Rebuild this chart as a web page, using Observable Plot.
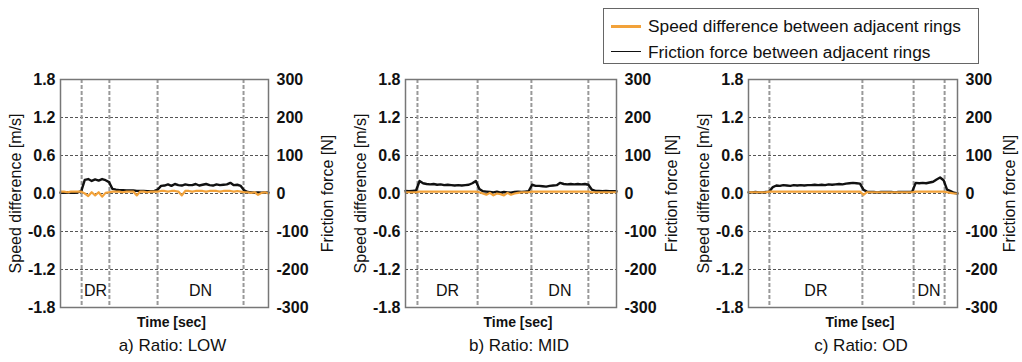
<!DOCTYPE html>
<html>
<head>
<meta charset="utf-8">
<script src="https://cdn.jsdelivr.net/npm/d3@7"></script>
<script src="https://cdn.jsdelivr.net/npm/@observablehq/plot@0.6"></script>
<style>
  html, body { margin: 0; padding: 0; background: #fff; }
  #root { position: relative; width: 1022px; height: 362px; overflow: hidden; font-family: "Liberation Sans", Arial, sans-serif; color: #111; }
  .panel { position: absolute; top: 0; }
  #legend { position: absolute; left: 603px; top: 8px; width: 374px; height: 54px; border: 1px solid #666; background: #fff; }
  .lrow { position: absolute; left: 0; height: 20px; font-size: 17.3px; line-height: 20px; white-space: nowrap; }
  .lrow span.sw { position: absolute; left: 7px; top: 10px; width: 30px; }
  .lrow span.tx { position: absolute; left: 44px; top: 0; }
</style>
</head>
<body>
<div id="root">
  <div id="legend"></div>
</div>
<script>
// ---- data ----
const time = d3.range(0, 61); // seconds (no tick labels in the original)
const speedTicks = [-1.8, -1.2, -0.6, 0, 0.6, 1.2, 1.8];
const forceTicks = [-300, -200, -100, 0, 100, 200, 300];
const phaseLabels = ["DR", "DN"];
const seriesNames = ["Speed difference between adjacent rings", "Friction force between adjacent rings"];
const panelTitles = ["a) Ratio: LOW", "b) Ratio: MID", "c) Ratio: OD"];

// phase boundaries [DR start, DR end, DN start, DN end] in seconds
const boundsA = [6.1, 14.1, 28.0, 52.8];
const boundsB = [3.4, 20.5, 35.8, 52.0];
const boundsC = [6.0, 32.7, 47.4, 56.3];

// speed difference [m/s]
const speedA = [0.03,0.03,0.02,0.03,0.03,0.03,0.03,0.00,-0.04,0.02,
                -0.03,0.02,-0.05,0.01,0.02,0.03,0.03,0.03,0.02,0.03,
                0.03,0.03,-0.03,0.03,0.03,0.02,0.03,0.03,0.03,0.04,
                0.04,0.03,0.04,0.04,0.03,-0.03,0.04,0.04,0.03,0.04,
                0.04,0.04,0.03,0.04,0.04,0.04,0.03,0.04,0.04,0.04,
                0.03,0.04,0.03,0.02,0.02,0.01,0.02,-0.02,0.01,0.02,
                0.00];
const speedB = [0.02,0.02,0.02,0.02,0.03,0.03,0.03,0.03,0.03,0.03,
                0.03,0.03,0.03,0.03,0.03,0.03,0.03,0.03,0.03,0.03,
                0.03,0.02,0.00,-0.02,0.01,-0.03,0.00,-0.01,-0.03,0.01,
                -0.02,0.00,0.01,0.02,0.02,0.02,0.03,0.03,0.03,0.03,
                0.03,0.03,0.03,0.03,0.03,0.03,0.03,0.03,0.03,0.03,
                0.03,0.03,0.03,0.02,0.02,0.02,0.02,0.02,0.02,0.02,
                0.02];
const speedC = [0.02,0.02,0.02,0.02,0.02,0.02,0.03,0.03,0.03,0.03,
                0.03,0.03,0.03,0.03,0.03,0.03,0.03,0.03,0.03,0.03,
                0.03,0.03,0.03,0.03,0.03,0.03,0.03,0.03,0.03,0.03,
                0.03,0.03,0.03,-0.02,0.02,0.02,0.02,0.02,0.02,0.02,
                0.02,0.02,0.02,0.02,0.02,0.02,0.02,0.02,0.03,0.03,
                0.03,0.03,0.03,0.03,0.03,0.03,0.03,0.02,0.01,0.00,
                0.00];

// friction force [N]
const forceA = [2,2,3,2,2,3,6,36,38,33,
                37,34,38,35,30,12,10,9,9,8,
                8,8,7,7,7,6,6,6,10,20,
                21,24,20,25,22,21,24,22,22,25,
                21,23,25,22,21,24,22,23,24,28,
                22,23,20,8,4,3,2,3,2,3,
                2];
const forceB = [7,6,7,8,33,27,25,24,25,23,
                24,22,23,22,21,22,21,22,23,27,
                33,12,6,5,4,3,5,2,4,3,
                2,4,5,4,5,6,23,20,20,19,
                18,20,21,22,28,25,24,25,24,25,
                24,25,23,10,7,7,6,7,6,6,
                6];
const forceC = [3,3,4,3,3,4,5,17,21,20,
                22,21,20,22,21,22,21,22,22,23,
                22,23,22,24,23,24,25,24,26,27,
                28,27,26,10,5,4,4,3,4,4,
                4,4,3,4,4,4,4,5,28,27,
                28,27,29,31,37,42,35,10,6,2,
                0];

// ---- layout ----
const colors = {speed: "#f2a23a", force: "#111"};
const panels = [
  {left: 0,   width: 340, ml: 60, mr: 72, rdx: 59, bounds: boundsA, speed: speedA, force: forceA, title: panelTitles[0]},
  {left: 340, width: 340, ml: 65, mr: 64, rdx: 55, bounds: boundsB, speed: speedB, force: forceB, title: panelTitles[1]},
  {left: 680, width: 342, ml: 68, mr: 65, rdx: 52, bounds: boundsC, speed: speedC, force: forceC, title: panelTitles[2]}
];
const k = speedTicks[speedTicks.length - 1] / forceTicks[forceTicks.length - 1]; // N -> m/s axis position

const root = document.getElementById("root");
for (const p of panels) {
  const rows = time.map((t, i) => ({t, s: p.speed[i], f: p.force[i]}));
  const phases = phaseLabels.map((name, j) => ({name, x: (p.bounds[2*j] + p.bounds[2*j+1]) / 2}));
  const chart = Plot.plot({
    width: p.width, height: 362,
    marginLeft: p.ml, marginRight: p.mr, marginTop: 79, marginBottom: 55,
    x: {domain: [0, 60], axis: null},
    y: {domain: [-1.8, 1.8]},
    style: {fontFamily: "'Liberation Sans', Arial, sans-serif", fontSize: "16px", color: "#111", background: "transparent", overflow: "visible"},
    marks: [
      Plot.gridY(speedTicks, {stroke: "#555", strokeOpacity: 1, strokeWidth: 1, strokeDasharray: "3,2"}),
      Plot.ruleX(p.bounds, {stroke: "#999", strokeWidth: 2, strokeDasharray: "4,2"}),
      Plot.line(rows, {x: "t", y: d => d.f * k, stroke: colors.force, strokeWidth: 2.4}),
      Plot.line(rows, {x: "t", y: "s", stroke: colors.speed, strokeWidth: 2.2}),
      Plot.frame({stroke: "#777", strokeWidth: 1.5}),
      Plot.axisY(speedTicks, {anchor: "left", label: null, tickSize: 0, tickPadding: 5, tickFormat: d => d.toFixed(1), fontWeight: "bold"}),
      Plot.axisY(speedTicks, {anchor: "right", label: null, tickSize: 0, tickPadding: 8, tickFormat: d => String(forceTicks[speedTicks.indexOf(d)]), fontWeight: "bold"}),
      Plot.text(phases, {x: "x", y: -1.53, text: "name", fontSize: 16}),
      Plot.text(["Speed difference [m/s]"], {text: d => d, frameAnchor: "left", textAnchor: "middle", rotate: -90, dx: -45, fontSize: 16}),
      Plot.text(["Friction force [N]"], {text: d => d, frameAnchor: "right", textAnchor: "middle", rotate: -90, dx: p.rdx, fontSize: 16}),
      Plot.text(["Time [sec]"], {text: d => d, frameAnchor: "bottom", dx: 7, dy: 19, fontSize: 14, fontWeight: "bold"}),
      Plot.text([p.title], {text: d => d, frameAnchor: "bottom", dx: 8, dy: 43, fontSize: 17})
    ]
  });
  chart.classList.add("panel");
  chart.style.left = p.left + "px";
  root.insertBefore(chart, root.firstChild);
}

// ---- legend ----
const legend = document.getElementById("legend");
const swatch = [
  {color: colors.speed, width: 3},
  {color: colors.force, width: 1.5}
];
seriesNames.forEach((name, i) => {
  const row = document.createElement("div");
  row.className = "lrow";
  row.style.top = (7 + i * 26) + "px";
  const sw = document.createElement("span");
  sw.className = "sw";
  sw.style.borderTop = swatch[i].width + "px solid " + swatch[i].color;
  sw.style.marginTop = (-swatch[i].width / 2) + "px";
  const tx = document.createElement("span");
  tx.className = "tx";
  tx.textContent = name;
  row.appendChild(sw);
  row.appendChild(tx);
  legend.appendChild(row);
});
</script>
</body>
</html>
